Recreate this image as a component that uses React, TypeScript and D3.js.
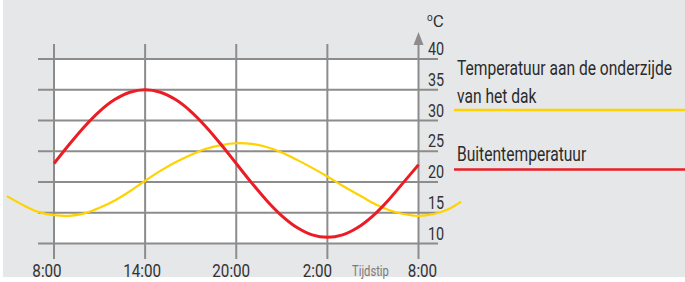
import React, { useEffect, useRef } from 'react';
import * as d3 from 'd3';

// hours since 8:00
const redHours = [0, 1, 2, 3, 4, 5, 6, 7, 8, 9, 10, 11, 12, 13, 14, 15, 16, 17, 18, 19, 20, 21, 22, 23, 24];
const redTemps = [23, 26.1, 29, 31.5, 33.4, 34.6, 35, 34.6, 33.4, 31.5, 29, 26.1, 23, 19.9, 17, 14.5, 12.6, 11.4, 11, 11.4, 12.6, 14.5, 17, 19.9, 22.8];

const yellowHours = [-3.1, -2, -1, 0, 1, 2, 3, 4, 5, 6, 7, 8, 9, 10, 11, 12, 13, 14, 15, 16, 17, 18, 19, 20, 21, 22, 23, 24, 25, 26, 26.8];
const yellowTemps = [17.7, 16.2, 15.1, 14.6, 14.5, 14.9, 15.8, 17, 18.5, 20.2, 21.8, 23.2, 24.4, 25.4, 26, 26.3, 26.2, 25.7, 24.8, 23.6, 22.3, 20.9, 19.4, 18, 16.6, 15.5, 14.8, 14.5, 14.8, 15.6, 16.8];

const yTicks = [10, 15, 20, 25, 30, 35, 40];
const xTicks = [0, 6, 12, 18, 24];
const xTickLabels = ['8:00', '14:00', '20:00', '2:00', '8:00'];
const xTickShift = [-7, -3, -5, -10, 4];

const legendTop = ['Temperatuur aan de onderzijde', 'van het dak'];
const legendBottom = 'Buitentemperatuur';

const RED = '#ec1c24';
const YELLOW = '#ffd200';
const GRID = '#8c8c8c';
const FONT = "Roboto, 'Liberation Sans', sans-serif";
const SQUEEZE = 0.8;

const App: React.FC = () => {
  const svgRef = useRef<SVGSVGElement>(null);
  const width = 685;
  const height = 282;

  useEffect(() => {
    if (!svgRef.current) return;
    const svg = d3.select(svgRef.current);
    svg.selectAll('*').remove();

    const x = d3.scaleLinear().domain([0, 24]).range([54, 418.5]);
    const y = d3.scaleLinear().domain([10, 40]).range([243.5, 59]);

    svg.append('rect').attr('x', 3).attr('y', 0).attr('width', width - 3).attr('height', 277).attr('fill', '#e6e7e9');

    svg.append('rect')
      .attr('x', x(0)).attr('y', y(40))
      .attr('width', x(24) - x(0)).attr('height', y(10) - y(40))
      .attr('fill', '#fff');

    // horizontal grid
    svg.append('g').selectAll('line')
      .data(yTicks)
      .join('line')
      .attr('x1', 38).attr('x2', 438)
      .attr('y1', d => y(d)).attr('y2', d => y(d))
      .attr('stroke', GRID).attr('stroke-width', 2);

    // vertical grid
    svg.append('g').selectAll('line')
      .data(xTicks)
      .join('line')
      .attr('x1', d => x(d)).attr('x2', d => x(d))
      .attr('y1', d => (d === 24 ? 40 : 44)).attr('y2', 259)
      .attr('stroke', GRID).attr('stroke-width', 2);

    // arrow
    const ax = x(24);
    svg.append('path')
      .attr('d', `M${ax},32 L${ax + 5},45 L${ax - 5},45 Z`)
      .attr('fill', GRID);

    const line = d3.line<[number, number]>()
      .x(d => x(d[0]))
      .y(d => y(d[1]))
      .curve(d3.curveCatmullRom.alpha(0.5));

    svg.append('path')
      .datum(yellowHours.map((h, i) => [h, yellowTemps[i]] as [number, number]))
      .attr('d', line)
      .attr('fill', 'none')
      .attr('stroke', YELLOW)
      .attr('stroke-width', 2.2);

    svg.append('path')
      .datum(redHours.map((h, i) => [h, redTemps[i]] as [number, number]))
      .attr('d', line)
      .attr('fill', 'none')
      .attr('stroke', RED)
      .attr('stroke-width', 3);

    const texts = svg.append('g').attr('class', 'texts');

    // y labels
    texts.selectAll('text.ylab')
      .data(yTicks)
      .join('text')
      .attr('class', 'ylab')
      .attr('x', 428)
      .attr('y', d => y(d) - 4)
      .attr('font-size', 18)
      .attr('fill', '#333')
      .text(d => d);

    const unit = svg.append('text')
      .attr('x', 427).attr('y', 27)
      .attr('font-family', FONT)
      .attr('font-size', 17)
      .attr('fill', '#333');
    unit.append('tspan').attr('font-size', 10).attr('dy', -6).text('o');
    unit.append('tspan').attr('dy', 6).text('C');

    // x labels
    texts.selectAll('text.xlab')
      .data(xTicks)
      .join('text')
      .attr('class', 'xlab')
      .attr('x', (d, i) => x(d) + xTickShift[i])
      .attr('y', 277)
      .attr('text-anchor', 'middle')
      .attr('font-size', 19)
      .attr('fill', '#333')
      .text((d, i) => xTickLabels[i]);

    texts.append('text')
      .attr('x', 352).attr('y', 276)
      .attr('font-size', 14)
      .attr('fill', '#7a7a7a')
      .text('Tijdstip');

    // legend
    legendTop.forEach((t, i) => {
      texts.append('text')
        .attr('x', 457).attr('y', 75 + i * 28)
        .attr('font-size', 19.5)
        .attr('fill', '#2b2b2b')
        .text(t);
    });
    svg.append('line')
      .attr('x1', 454).attr('x2', width)
      .attr('y1', 110).attr('y2', 110)
      .attr('stroke', YELLOW).attr('stroke-width', 2.5);

    texts.append('text')
      .attr('x', 457).attr('y', 161)
      .attr('font-size', 19.5)
      .attr('fill', '#2b2b2b')
      .text(legendBottom);
    svg.append('line')
      .attr('x1', 454).attr('x2', width)
      .attr('y1', 169.5).attr('y2', 169.5)
      .attr('stroke', RED).attr('stroke-width', 2.5);

    // condensed look like the original typeface
    texts.selectAll<SVGTextElement, unknown>('text')
      .attr('font-family', FONT)
      .each(function () {
        const w = this.getComputedTextLength();
        d3.select(this)
          .attr('textLength', w * SQUEEZE)
          .attr('lengthAdjust', 'spacingAndGlyphs');
      });
  }, []);

  return (
    <div style={{ position: 'fixed', left: 0, top: 0 }}>
      <svg ref={svgRef} width={width} height={height} style={{ display: 'block', background: '#fff' }} />
    </div>
  );
};

export default App;
